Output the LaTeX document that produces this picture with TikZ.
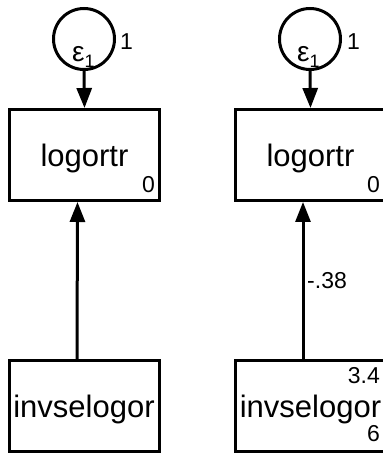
\documentclass[tikz,border=0pt]{standalone}
\usepackage{fontspec}
\setmainfont{Liberation Sans}
\usetikzlibrary{arrows.meta}
\tikzset{
  var/.style={draw, line width=3pt, minimum width=150pt, minimum height=91pt, inner sep=0pt,
    text height=23pt, text depth=0pt, font=\fontsize{31}{36}\selectfont},
  err/.style={draw, circle, line width=3pt, minimum size=61pt, inner sep=0pt},
  lab/.style={inner sep=0pt, font=\fontsize{23}{28}\selectfont},
  eps/.style={inner sep=0pt, font=\fontsize{28}{30}\selectfont},
  conn/.style={line width=3pt, -{Triangle[length=20pt,width=15pt]}}
}

\begin{document}
\begin{tikzpicture}[x=1pt,y=1pt]
      \useasboundingbox (0,0) rectangle (383,453);
      \clip (0,0) rectangle (383,453);
      \node [err] (e1) at (84,414) {};
      \node [eps, anchor=base west] (eps1) at (72,391) {ε\raisebox{-6pt}{\fontsize{18}{20}\selectfont 1}};
      \node [lab, anchor=base west] (v1) at (120,403) {1};
      \node [var] (log1) at (84.5,298) {logortr};
      \node [lab, anchor=base east] (c1) at (155,260) {0};
      \node [var] (inv1) at (84,47) {invselogor};
      \draw [conn] (e1.south) -- (log1.north);
      \draw [conn] ([xshift=-7pt]inv1.north) -- ([xshift=-7pt]log1.south);

      \node [err] (e2) at (310,414) {};
      \node [eps, anchor=base west] (eps2) at (297,391) {ε\raisebox{-6pt}{\fontsize{18}{20}\selectfont 1}};
      \node [lab, anchor=base west] (v2) at (347,403) {1};
      \node [var] (log2) at (310.5,298) {logortr};
      \node [lab, anchor=base east] (c2) at (380,260) {0};
      \node [var] (inv2) at (310.5,47) {invselogor};
      \node [lab, anchor=base east] (m2) at (380,69) {3.4};
      \node [lab, anchor=base east] (s2) at (380,11) {6};
      \draw [conn] (e2.south) -- (log2.north);
      \draw [conn] ([xshift=-7.5pt]inv2.north) -- ([xshift=-7.5pt]log2.south);
      \node [lab, anchor=base west] (b2) at (307,164) {-.38};
\end{tikzpicture}
\end{document}
